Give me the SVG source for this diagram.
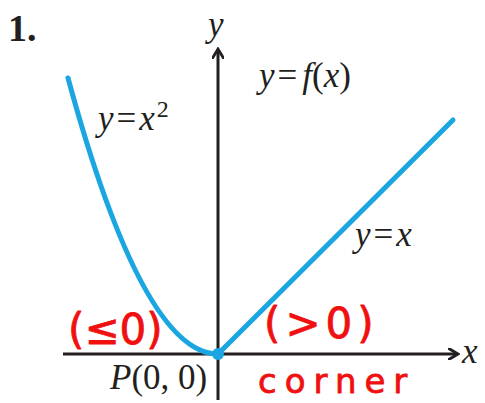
<svg xmlns="http://www.w3.org/2000/svg" width="485" height="403" viewBox="0 0 485 403">
<style>
.ax{stroke:#231f20;stroke-width:3;fill:none}
.cv{stroke:#1ba6e1;stroke-width:5;fill:none;stroke-linecap:round}
.m{font-family:"Liberation Serif",serif;font-size:35px;fill:#231f20}
.i{font-style:italic}
.r{font-family:"DejaVu Sans",sans-serif;fill:#f01010;stroke:#f01010;stroke-width:0.8;stroke-linejoin:round}
</style>
<defs>
<marker id="ah" markerWidth="12" markerHeight="12" refX="9" refY="6" orient="auto" markerUnits="userSpaceOnUse" viewBox="0 0 12 12">
<path d="M0,0 L10,6 L0,12" fill="none" stroke="#231f20" stroke-width="2.8"/>
</marker>
</defs>
<rect width="485" height="403" fill="#fff"/>
<g id="axes">
<line class="ax" x1="63" y1="354" x2="457" y2="354" marker-end="url(#ah)"/>
<line class="ax" x1="218" y1="400" x2="218" y2="50" marker-end="url(#ah)"/>
</g>
<g id="curves">
<path class="cv" d="M68,78 Q143,354 218,354"/>
<path class="cv" d="M218,354 L453,120"/>
<circle cx="218" cy="354" r="6" fill="#1ba6e1"/>
</g>
<g id="labels">
<text x="8" y="41" font-family="Liberation Serif,serif" font-weight="bold" font-size="38" fill="#231f20">1.</text>
<text class="m i" x="208" y="36">y</text>
<text class="m i" x="462" y="363">x</text>
<text class="m" x="98" y="130"><tspan class="i">y</tspan><tspan dx="3">=</tspan><tspan class="i" dx="3">x</tspan><tspan font-size="24" dy="-13" dx="2">2</tspan></text>
<text class="m" x="259" y="87"><tspan class="i">y</tspan><tspan dx="3">=</tspan><tspan class="i" dx="5">f</tspan>(<tspan class="i">x</tspan>)</text>
<text class="m" x="355" y="246"><tspan class="i">y</tspan><tspan dx="3">=</tspan><tspan class="i" dx="3">x</tspan></text>
<text class="m" x="110" y="389"><tspan class="i">P</tspan>(0, 0)</text>
</g>
<g id="notes">
<text class="r" x="68" y="344" font-size="42">(≤0)</text>
<text class="r" x="264" y="338" font-size="42" letter-spacing="5">(&gt;0)</text>
<text class="r" x="258" y="393" font-size="34" letter-spacing="8">corner</text>
</g>
</svg>
